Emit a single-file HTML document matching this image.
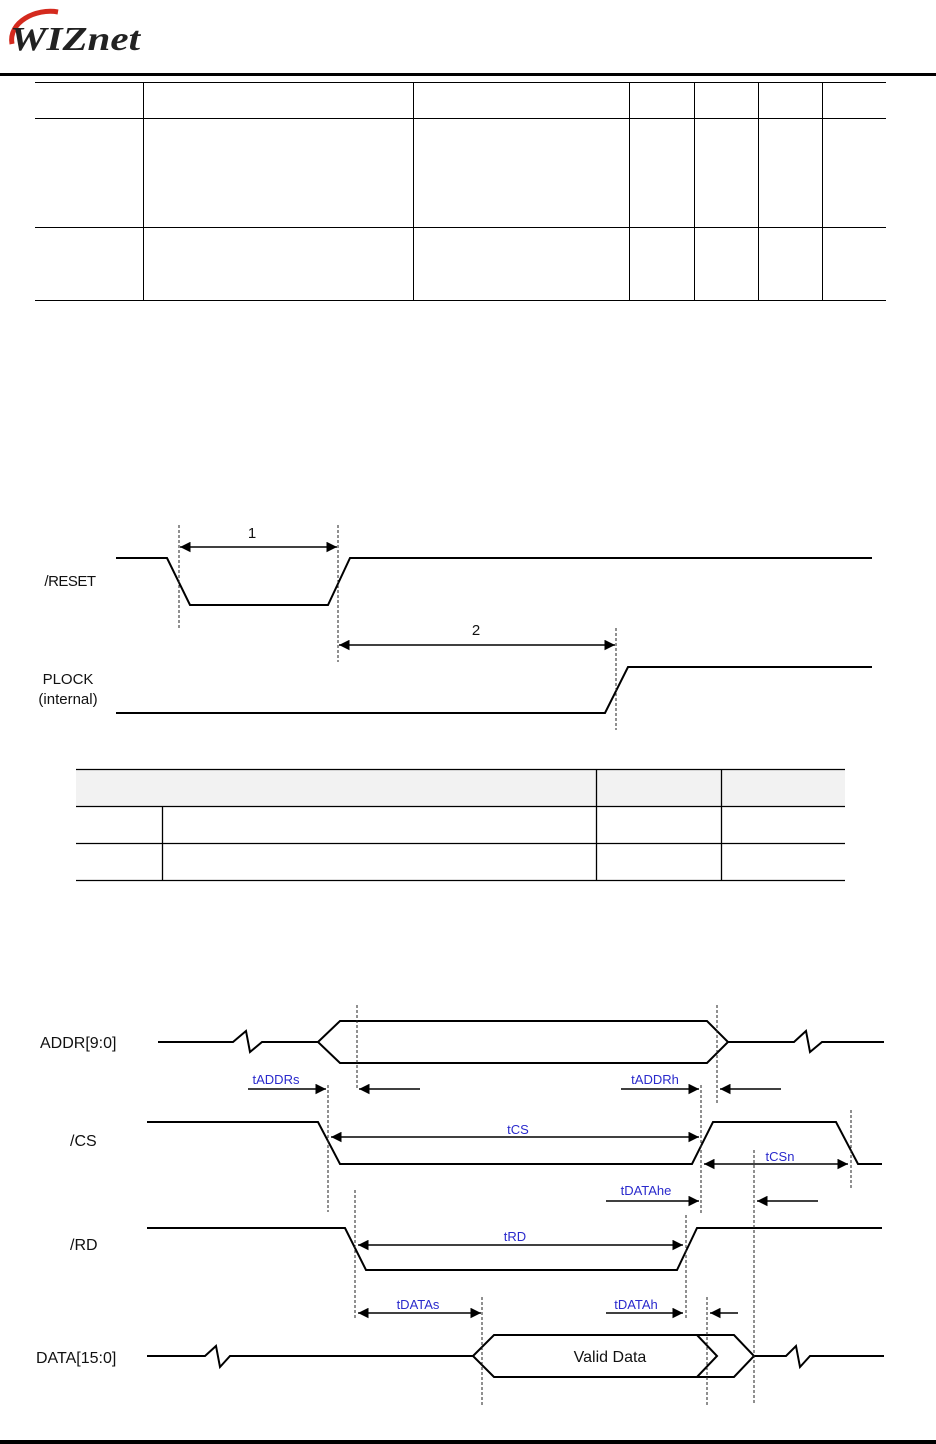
<!DOCTYPE html>
<html><head><meta charset="utf-8"><style>
html,body{margin:0;padding:0;background:#fff;width:936px;height:1444px;overflow:hidden}
svg{display:block}
</style></head><body>
<svg width="936" height="1444" viewBox="0 0 936 1444" xmlns="http://www.w3.org/2000/svg" font-family="Liberation Sans, sans-serif">
<defs>
<marker id="ah" viewBox="0 0 10 10" refX="10" refY="5" markerWidth="7" markerHeight="7" orient="auto-start-reverse"><path d="M0,0 L10,5 L0,10 z" fill="#000"/></marker>
</defs>
<!-- logo -->
<path d="M12,44 C8,22 36,8 58,12" fill="none" stroke="#d42a1e" stroke-width="5"/>
<text x="10" y="50" font-family="Liberation Serif, serif" font-size="34" font-weight="bold" fill="#222" font-style="italic" textLength="130" lengthAdjust="spacingAndGlyphs">WIZnet</text>
<rect x="0" y="73" width="936" height="3" fill="#000"/>
<rect x="0" y="1440" width="936" height="4" fill="#000"/>
<!-- top table -->
<g stroke="#000" stroke-width="1">
<line x1="35" y1="82.5" x2="886" y2="82.5"/>
<line x1="35" y1="118.5" x2="886" y2="118.5"/>
<line x1="35" y1="227.5" x2="886" y2="227.5"/>
<line x1="35" y1="300.5" x2="886" y2="300.5"/>
<line x1="143.5" y1="82" x2="143.5" y2="300"/>
<line x1="413.5" y1="82" x2="413.5" y2="300"/>
<line x1="629.5" y1="82" x2="629.5" y2="300"/>
<line x1="694.5" y1="82" x2="694.5" y2="300"/>
<line x1="758.5" y1="82" x2="758.5" y2="300"/>
<line x1="822.5" y1="82" x2="822.5" y2="300"/>
</g>
<!-- reset diagram -->
<g fill="none" stroke="#000" stroke-width="2">
<polyline points="116,558 167,558 190,605 328,605 350,558 872,558"/>
<polyline points="116,713 605,713 628,667 872,667"/>
</g>
<g stroke="#222" stroke-width="1" stroke-dasharray="3,2">
<line x1="179" y1="525" x2="179" y2="628"/>
<line x1="338" y1="525" x2="338" y2="662"/>
<line x1="616" y1="628" x2="616" y2="730"/>
</g>
<g stroke="#000" stroke-width="1.5" marker-start="url(#ah)" marker-end="url(#ah)">
<line x1="180" y1="547" x2="337" y2="547"/>
<line x1="339" y1="645" x2="615" y2="645"/>
</g>
<g font-size="15" fill="#111">
<text x="252" y="538" text-anchor="middle">1</text>
<text x="476" y="635" text-anchor="middle">2</text>
<text x="70" y="586" text-anchor="middle" letter-spacing="-0.5">/RESET</text>
<text x="68" y="684" text-anchor="middle">PLOCK</text>
<text x="68" y="704" text-anchor="middle">(internal)</text>
</g>
<!-- second table -->
<rect x="76" y="769" width="769" height="37" fill="#f2f2f2"/>
<g stroke="#000" stroke-width="1.3">
<line x1="76" y1="769.5" x2="845" y2="769.5"/>
<line x1="76" y1="806.5" x2="845" y2="806.5"/>
<line x1="76" y1="843.5" x2="845" y2="843.5"/>
<line x1="76" y1="880.5" x2="845" y2="880.5"/>
<line x1="162.5" y1="806" x2="162.5" y2="880"/>
<line x1="596.5" y1="769" x2="596.5" y2="880"/>
<line x1="721.5" y1="769" x2="721.5" y2="880"/>
</g>
<!-- read timing -->
<g fill="none" stroke="#000" stroke-width="2">
<polyline points="158,1042 233,1042 246,1031 250,1052 262,1042 318,1042"/>
<polygon points="318,1042 340,1021 707,1021 728,1042 707,1063 340,1063"/>
<polyline points="728,1042 794,1042 806,1031 810,1052 822,1042 884,1042"/>
<polyline points="147,1122 318,1122 340,1164 692,1164 713,1122 836,1122 858,1164 882,1164"/>
<polyline points="147,1228 345,1228 366,1270 677,1270 697,1228 882,1228"/>
<polyline points="147,1356 205,1356 216,1346 220,1367 230,1356 473,1356"/>
<polyline points="473,1356 494,1335 734,1335 754,1356 734,1377 494,1377 473,1356"/>
<polyline points="697,1335 717,1356 697,1377"/>
<polyline points="754,1356 786,1356 796,1346 800,1367 810,1356 884,1356"/>
</g>
<g stroke="#222" stroke-width="1" stroke-dasharray="3,2">
<line x1="357" y1="1005" x2="357" y2="1090"/>
<line x1="717" y1="1005" x2="717" y2="1105"/>
<line x1="328" y1="1085" x2="328" y2="1212"/>
<line x1="701" y1="1085" x2="701" y2="1215"/>
<line x1="851" y1="1110" x2="851" y2="1190"/>
<line x1="754" y1="1150" x2="754" y2="1405"/>
<line x1="355" y1="1190" x2="355" y2="1320"/>
<line x1="686" y1="1215" x2="686" y2="1320"/>
<line x1="482" y1="1297" x2="482" y2="1405"/>
<line x1="707" y1="1297" x2="707" y2="1405"/>
</g>
<g stroke="#000" stroke-width="1.5">
<line x1="248" y1="1089" x2="326" y2="1089" marker-end="url(#ah)"/>
<line x1="420" y1="1089" x2="359" y2="1089" marker-end="url(#ah)"/>
<line x1="621" y1="1089" x2="699" y2="1089" marker-end="url(#ah)"/>
<line x1="781" y1="1089" x2="720" y2="1089" marker-end="url(#ah)"/>
<line x1="331" y1="1137" x2="699" y2="1137" marker-start="url(#ah)" marker-end="url(#ah)"/>
<line x1="704" y1="1164" x2="848" y2="1164" marker-start="url(#ah)" marker-end="url(#ah)"/>
<line x1="606" y1="1201" x2="699" y2="1201" marker-end="url(#ah)"/>
<line x1="818" y1="1201" x2="757" y2="1201" marker-end="url(#ah)"/>
<line x1="358" y1="1245" x2="683" y2="1245" marker-start="url(#ah)" marker-end="url(#ah)"/>
<line x1="358" y1="1313" x2="481" y2="1313" marker-start="url(#ah)" marker-end="url(#ah)"/>
<line x1="606" y1="1313" x2="683" y2="1313" marker-end="url(#ah)"/>
<line x1="738" y1="1313" x2="710" y2="1313" marker-end="url(#ah)"/>
</g>
<g font-size="13" fill="#2a2acc" text-anchor="middle">
<text x="276" y="1084">tADDRs</text>
<text x="655" y="1084">tADDRh</text>
<text x="518" y="1134">tCS</text>
<text x="780" y="1161">tCSn</text>
<text x="646" y="1195">tDATAhe</text>
<text x="515" y="1241">tRD</text>
<text x="418" y="1309">tDATAs</text>
<text x="636" y="1309">tDATAh</text>
</g>
<g font-size="16" fill="#111">
<text x="40" y="1048">ADDR[9:0]</text>
<text x="70" y="1146">/CS</text>
<text x="70" y="1250">/RD</text>
<text x="36" y="1363">DATA[15:0]</text>
<text x="610" y="1362" text-anchor="middle">Valid Data</text>
</g>
</svg>
</body></html>
